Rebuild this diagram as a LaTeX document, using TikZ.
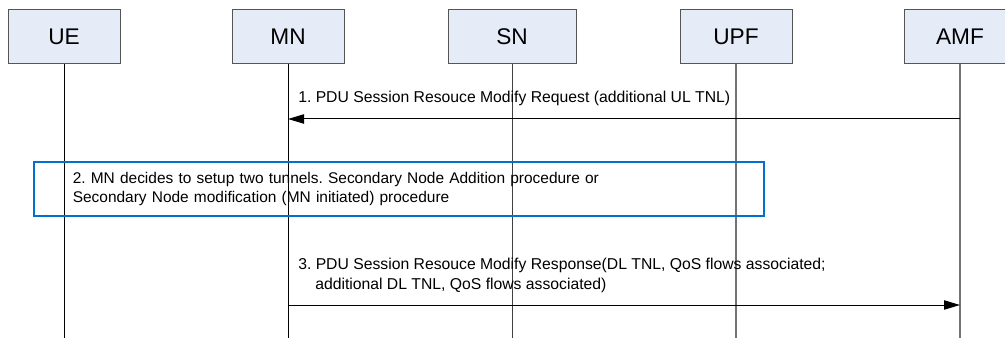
\documentclass[tikz,border=0pt]{standalone}
\usepackage{fontspec}
\setmainfont{Liberation Sans}
\usetikzlibrary{arrows.meta}
\definecolor{boxfill}{RGB}{229,236,247}
\definecolor{boxline}{RGB}{85,85,85}
\definecolor{stepblue}{RGB}{0,114,206}
\frenchspacing
\tikzset{
  entity/.style={draw=boxline, fill=boxfill, line width=0.6pt, minimum width=84pt, minimum height=41pt, inner sep=0pt, font=\fontsize{17}{19}\selectfont},
  life/.style={line width=0.75pt},
  lifegray/.style={line width=1.1pt, draw=black!55},
  msg/.style={line width=0.75pt, -{Triangle[length=12pt,width=7pt]}},
  msgtext/.style={anchor=west, inner sep=0pt, align=left, font=\fontsize{11.8}{15.5}\selectfont},
  stepbox/.style={draw=stepblue, line width=1.2pt, anchor=north west, inner ysep=0pt, align=left, font=\fontsize{11.6}{14.25}\selectfont},
}

\begin{document}
\begin{tikzpicture}[x=0.75pt,y=0.75pt,yscale=-1,xscale=1]
\useasboundingbox (0,0) rectangle (1005,338);

% Entities
\node [entity] (ue) at (64,36.5) {UE};
\node [entity] (mn) at (288,36.5) {MN};
\node [entity, minimum width=96pt] (sn) at (512,36.5) {SN};
\node [entity] (upf) at (736,36.5) {UPF};
\node [entity] (amf) at (960,36.5) {AMF};

% Lifelines
\coordinate (ue-end) at (ue |- 0,338);
\coordinate (mn-end) at (mn |- 0,338);
\coordinate (sn-end) at (sn |- 0,338);
\coordinate (upf-end) at (upf |- 0,338);
\coordinate (amf-end) at (amf |- 0,338);
\draw [life] (ue) -- (ue-end);
\draw [life] (mn) -- (mn-end);
\draw [life, draw=black!75] (sn) -- (sn-end);
\draw [lifegray] (upf) -- (upf-end);
\draw [lifegray] (amf) -- (amf-end);

% Step 1
\coordinate (amf-m1) at (amf |- 0,119);
\coordinate (mn-m1) at (mn |- 0,119);
\draw [msg] (amf-m1) -- (mn-m1);
\node [msgtext] (m1) at (298,98) {1. PDU Session Resouce Modify Request (additional UL TNL)};

% Step 2
\node [stepbox, minimum width=547.5pt, minimum height=40.5pt, text width=489pt, inner xsep=29.25pt] (step2) at (33,161) {2. MN decides to setup two tunnels. Secondary Node Addition procedure or\\Secondary Node modification (MN initiated) procedure};

% Step 3
\coordinate (mn-m3) at (mn |- 0,305);
\coordinate (amf-m3) at (amf |- 0,305);
\draw [msg] (mn-m3) -- (amf-m3);
\node [msgtext] (m3) at (298,275.5) {3. PDU Session Resouce Modify Response(DL TNL, QoS flows associated;\\\hspace{12.75pt}additional DL TNL, QoS flows associated)};

\end{tikzpicture}
\end{document}
